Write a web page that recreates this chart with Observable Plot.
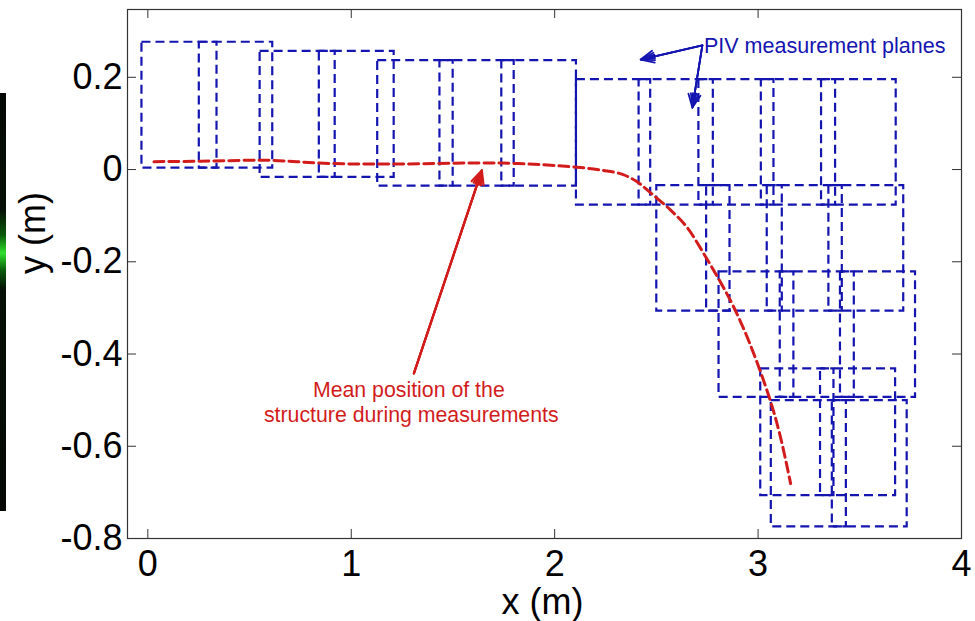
<!DOCTYPE html>
<html>
<head>
<meta charset="utf-8">
<script src="https://cdn.jsdelivr.net/npm/d3@7"></script>
<script src="https://cdn.jsdelivr.net/npm/@observablehq/plot@0.6"></script>
<style>
  html, body { margin: 0; padding: 0; background: white; }
  #wrap { position: relative; width: 975px; height: 621px; overflow: hidden; }
  #bar { position: absolute; left: 0; top: 93px; width: 6px; height: 418px;
         background: linear-gradient(to bottom, #050805 0%, #061006 28%, #0a5a0a 34%, #2fe02f 38.3%, #0a5a0a 42.5%, #061006 47%, #050805 100%); }
</style>
</head>
<body>
<div id="wrap"><div id="bar"></div></div>
<script>
// ---- data ----
const xTicks = [0, 1, 2, 3, 4];
const xTickLabels = ["0", "1", "2", "3", "4"];
const yTicks = [-0.8, -0.6, -0.4, -0.2, 0, 0.2];
const yTickLabels = ["-0.8", "-0.6", "-0.4", "-0.2", "0", "0.2"];

// PIV measurement planes (rectangles, metres)
const planeX1 = [-0.029, 0.253, 0.552, 0.843, 1.130, 1.436, 1.740, 2.107, 2.415, 2.709, 3.016, 3.312, 2.502, 2.747, 3.045, 3.348, 2.808, 3.109, 3.405, 3.013, 3.307, 3.065, 3.365];
const planeX2 = [0.340, 0.614, 0.921, 1.211, 1.501, 1.801, 2.107, 2.472, 2.780, 3.078, 3.381, 3.679, 2.862, 3.119, 3.414, 3.716, 3.176, 3.473, 3.774, 3.373, 3.676, 3.434, 3.733];
const planeYBottom = [0.003, 0.003, -0.017, -0.017, -0.036, -0.036, -0.036, -0.077, -0.077, -0.077, -0.077, -0.077, -0.307, -0.307, -0.307, -0.307, -0.494, -0.494, -0.494, -0.707, -0.707, -0.775, -0.775];
const planeYTop = [0.276, 0.276, 0.256, 0.256, 0.236, 0.236, 0.236, 0.195, 0.195, 0.195, 0.195, 0.195, -0.035, -0.035, -0.035, -0.035, -0.222, -0.222, -0.222, -0.432, -0.432, -0.501, -0.501];

// Mean position of the structure
const structX = [0.03, 0.26, 0.59, 0.90, 1.24, 1.74, 2.11, 2.24, 2.33, 2.40, 2.47, 2.57, 2.65, 2.75, 2.82, 2.88, 2.96, 3.06, 3.11, 3.16];
const structY = [0.017, 0.018, 0.020, 0.013, 0.012, 0.014, 0.005, -0.002, -0.010, -0.025, -0.050, -0.088, -0.125, -0.195, -0.248, -0.298, -0.378, -0.501, -0.580, -0.681];

// annotations
const redNoteLines = ["Mean position of the", "structure during measurements"];
const redNoteX = [1.283, 1.295];
const redNoteY = [-0.493, -0.548];
const redArrowFrom = [1.308, -0.442];
const redArrowTo = [1.642, -0.002];
const blueNote = "PIV measurement planes";
const blueNoteX = 2.734, blueNoteY = 0.253;
const blueArrowFromX = [2.726, 2.726];
const blueArrowFromY = [0.269, 0.269];
const blueArrowToX = [2.423, 2.677];
const blueArrowToY = [0.2385, 0.1344];

// ---- build ----
const W = 975, H = 621, ML = 127, MR = 14, MT = 9, MB = 83;
const FW = W - ML - MR, FH = H - MT - MB, TL = 9;
const BLUE = "#1414b0", RED = "#d21c1c", AX = "#333";
const FONT = "'Liberation Sans', Arial, Helvetica, sans-serif";

const planes = planeX1.map((x1, i) => ({x1, x2: planeX2[i], y1: planeYBottom[i], y2: planeYTop[i]}));
const curve = structX.map((x, i) => ({x, y: structY[i]}));
const redNotes = redNoteLines.map((t, i) => ({t, x: redNoteX[i], y: redNoteY[i]}));
const blueArrows = blueArrowToX.map((x2, i) => ({x1: blueArrowFromX[i], y1: blueArrowFromY[i], x2, y2: blueArrowToY[i]}));
const redArrows = [{x1: redArrowFrom[0], y1: redArrowFrom[1], x2: redArrowTo[0], y2: redArrowTo[1]}];

function arrowLayers(data, color, sw, hl) {
  return [50, 30, 14].map(a => Plot.arrow(data, {x1: "x1", y1: "y1", x2: "x2", y2: "y2", stroke: color, strokeWidth: sw, headAngle: a, headLength: hl}));
}

const chart = Plot.plot({
  width: W, height: H,
  marginLeft: ML, marginRight: MR, marginTop: MT, marginBottom: MB,
  style: {fontFamily: FONT, background: "white", color: "black"},
  x: {domain: [-0.1, 4]},
  y: {domain: [-0.8, 0.347]},
  marks: [
    Plot.rect(planes, {x1: "x1", x2: "x2", y1: "y1", y2: "y2", fill: "none", stroke: BLUE, strokeWidth: 2.2, strokeDasharray: "9,5"}),
    Plot.line(curve, {x: "x", y: "y", stroke: RED, strokeWidth: 3, strokeDasharray: "10,5", curve: "catmull-rom"}),
    ...arrowLayers(redArrows, RED, 2.2, 10),
    ...arrowLayers(blueArrows, BLUE, 1.8, 12),
    Plot.text(redNotes, {x: "x", y: "y", text: "t", fill: RED, fontSize: 21.3, lineAnchor: "bottom", textAnchor: "middle"}),
    Plot.text([blueNote], {x: () => blueNoteX, y: () => blueNoteY, text: d => d, fill: BLUE, fontSize: 21.5, lineAnchor: "bottom", textAnchor: "start"}),
    Plot.frame({stroke: AX, strokeWidth: 1.2}),
    Plot.tickX(xTicks, {x: d => d, stroke: AX, insetTop: FH - TL}),
    Plot.tickX(xTicks, {x: d => d, stroke: AX, insetBottom: FH - TL}),
    Plot.tickY(yTicks, {y: d => d, stroke: AX, insetRight: FW - TL}),
    Plot.tickY(yTicks, {y: d => d, stroke: AX, insetLeft: FW - TL}),
    Plot.axisX({ticks: xTicks, tickSize: 0, tickPadding: 12, fontSize: 36, label: null, tickFormat: d => xTickLabels[xTicks.indexOf(d)]}),
    Plot.axisY({ticks: yTicks, tickSize: 0, tickPadding: 5, fontSize: 36, label: null, tickFormat: d => yTickLabels[yTicks.indexOf(d)]}),
    Plot.text(["x (m)"], {frameAnchor: "bottom", dx: -2, dy: 75, lineAnchor: "bottom", fontSize: 36, text: d => d}),
    Plot.text(["y (m)"], {frameAnchor: "left", dx: -94, rotate: -90, fontSize: 36, text: d => d})
  ]
});
document.getElementById("wrap").appendChild(chart);
</script>
</body>
</html>
